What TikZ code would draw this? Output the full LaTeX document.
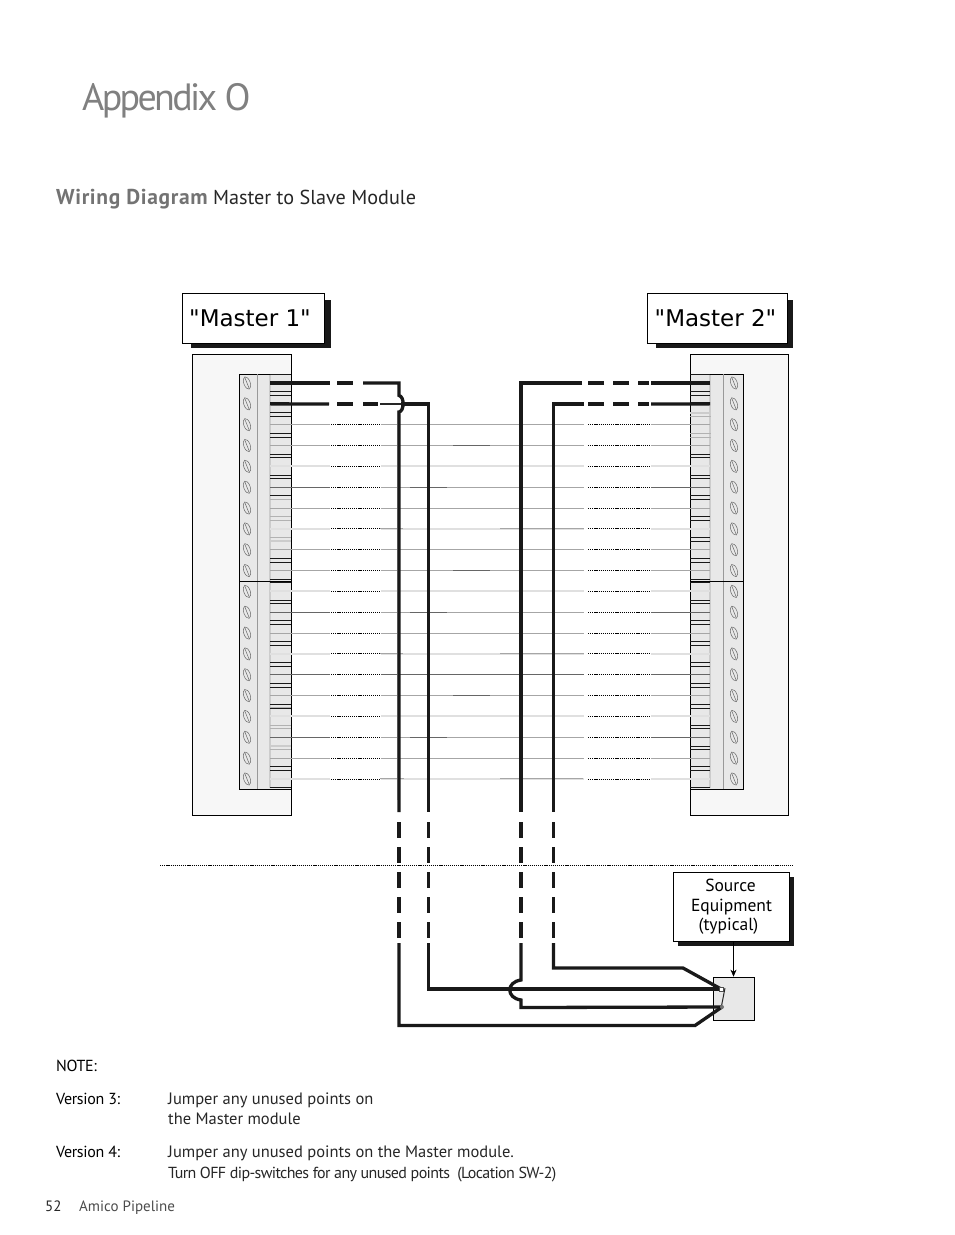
\documentclass[tikz,border=0pt]{standalone}
\usepackage{fontspec}
\usetikzlibrary{arrows.meta}
\setmainfont{PT Sans}
\newfontfamily\labelfont{DejaVu Sans}
\newfontfamily\tighttitle[LetterSpace=-7]{PT Sans}
\newfontfamily\tightnote[LetterSpace=-3.9]{PT Sans}
\newfontfamily\tightversion[LetterSpace=-2]{PT Sans}
\newfontfamily\widebold[LetterSpace=3,BoldFont={PT Sans Bold}]{PT Sans}
\definecolor{titlegray}{gray}{0.45}
\tikzset{
    panel/.style={draw=black, line width=0.9pt, fill=black!3},
    terminal/.style={draw=black, line width=0.9pt, fill=black!9},
    screw/.style={draw=black!60, line width=0.5pt},
    thickwire/.style={line width=3.3pt, draw=black!90},
    dotwire/.style={line width=0.9pt, dash pattern=on 1.2pt off 0.9pt, draw=black},
    shadowbox/.style={draw=black, line width=0.7pt, fill=white, align=center, inner sep=0pt},
    pagetext/.style={anchor=base west, inner sep=0pt, text=black!85, font=\fontsize{16.5}{16.5}\selectfont},
    versiontext/.style={anchor=base west, inner sep=0pt, text=black, font=\tightversion\fontsize{16}{16}\selectfont},
}
\begin{document}
\begin{tikzpicture}[x=1pt, y=-1pt]
    \useasboundingbox (0,0) rectangle (954,1235);

    % Titles
    \node[anchor=base west, inner sep=0pt, text=black!50, font=\tighttitle\fontsize{38}{38}\selectfont] (title) at (82,110) {Appendix O};
    \node[pagetext, font=\fontsize{20.2}{20}\selectfont] (subtitle) at (56,204) {\textcolor{titlegray}{\widebold\fontsize{21.5}{20}\selectfont\bfseries Wiring Diagram} Master to Slave Module};

    % Panels
    \filldraw[panel] (192,354) rectangle (291,815);
    \filldraw[panel] (690,354) rectangle (788,815);

    % Master labels
    \fill[black!90] (191,300) rectangle (330.5,348);
    \fill[black!90] (656,300) rectangle (792.5,348);
    \node[shadowbox, minimum width=142pt, minimum height=50.5pt, font=\labelfont\fontsize{23}{23}\selectfont] (master1) at (253.5,318.5) {\raisebox{-1pt}{"Master 1"}\hspace*{7pt}};
    \node[shadowbox, minimum width=140pt, minimum height=50.5pt, font=\labelfont\fontsize{23}{23}\selectfont] (master2) at (717.5,318.5) {\raisebox{-1pt}{"Master 2"}\hspace*{4pt}};

    % Terminal blocks
    \filldraw[terminal] (239,374) rectangle (291,789);
    \filldraw[terminal] (690,374) rectangle (743,789);
    \fill[black!20] (269,375) rectangle (271,788);
    \fill[black!20] (709,375) rectangle (711,788);
    \draw[black!40] (257,374) -- (257,789);
    \draw[black!40] (723,374) -- (723,789);
    \draw[line width=0.8pt] (239,581) -- (291,581);
    \draw[line width=0.8pt] (690,581) -- (743,581);

    % Screws and terminal marks
    \foreach \row in {1,...,20} {
        \pgfmathsetmacro{\rowy}{383+(\row-1)*20.84}
        \coordinate (L\row) at (270,\rowy);
        \coordinate (R\row) at (710,\rowy);
        \draw[screw, rotate around={20:(247,\rowy)}] (247,\rowy) ellipse (3.2pt and 6.5pt);
        \draw[screw] (245,\rowy-5) -- (249,\rowy+5);
        \draw[screw, rotate around={20:(734,\rowy)}] (734,\rowy) ellipse (3.2pt and 6.5pt);
        \draw[screw] (732,\rowy-5) -- (736,\rowy+5);
        \foreach \off in {-8.6,8.6} {
            \draw[line width=0.7pt, black!90] (270,\rowy+\off) -- (291,\rowy+\off);
            \draw[line width=0.7pt, black!90] (690,\rowy+\off) -- (710,\rowy+\off);
        }
    }

    % Greyed terminal marks
    \foreach \x/\y in {270/499.3, 270/516.3, 270/520.3, 270/537.3, 270/707, 270/725, 270/728, 270/749, 690/416, 690/433, 690/437} {
        \draw[line width=0.7pt, white!70!black] (\x,\y) -- ++(20.5,0);
    }
    \foreach \x/\y in {270/541, 270/745.7, 690/412.7} {
        \draw[line width=2pt, black!20] (\x,\y) -- ++(20.5,0);
    }

    % Thin wires
    \foreach \row/\ends/\middle/\wd in {3/35/35/1, 4/35/35/1, 5/12/12/2, 6/60/35/1, 7/35/35/1, 8/12/12/2, 9/35/35/1, 10/35/35/1, 11/12/12/2, 12/60/35/1, 13/35/35/1, 14/12/12/2, 15/60/60/1, 16/35/35/1, 17/12/12/2, 18/60/35/1, 19/35/35/1, 20/12/12/2} {
        \coordinate (la) at ([xshift=60pt]L\row);
        \coordinate (lb) at ([xshift=61pt]L\row);
        \coordinate (lc) at ([xshift=110pt]L\row);
        \coordinate (ld) at ([xshift=111pt]L\row);
        \coordinate (ra) at ([xshift=-59pt]R\row);
        \coordinate (rb) at ([xshift=-60pt]R\row);
        \coordinate (rc) at ([xshift=-122pt]R\row);
        \coordinate (rd) at ([xshift=-126pt]R\row);
        \draw[black!\ends, line width=\wd pt] (L\row) -- (la);
        \draw[black!\middle, line width=\wd pt] (ld) -- (rd);
        \draw[black!\ends, line width=\wd pt] (ra) -- (R\row);
        \draw[dotwire] (lb) -- (lc);
        \draw[dotwire] (rc) -- (rb);
    }

    % Darker pieces of the thin wires
    \foreach \row/\xa/\xb/\shade in {4/453/490/60, 6/410/447/60, 8/380/403/35, 8/500/584/35, 10/453/490/60, 12/410/447/60, 14/380/403/35, 14/500/584/35, 16/453/490/60, 18/410/447/60, 20/380/404/35, 20/500/583/35} {
        \draw[black!\shade, line width=1pt] (L\row -| \xa,0) -- (L\row -| \xb,0);
    }

    % Separation line
    \coordinate (sepL) at (160,865);
    \coordinate (sepR) at (793,865);
    \draw[dotwire] (sepL) -- (sepR);

    % Source equipment
    \node[draw=black, line width=0.7pt, fill=black!9, minimum width=41pt, minimum height=43pt, inner sep=0pt] (equip) at (733.5,998.5) {};
    \fill[black!90] (678,877) rectangle (793.5,945.5);
    \node[shadowbox, minimum width=115.5pt, minimum height=69pt, font=\fontsize{17.5}{19.5}\selectfont] (source) at (731.5,907) {Source\hspace*{2pt}\\Equipment\hspace*{2pt}\\(typical)\hspace*{6pt}};
    \draw[-{Stealth[length=7pt,width=6pt]}, line width=0.6pt] (source.south -| equip.north) -- (equip.north);

    % Shading beside the long wires
    \foreach \x in {397,427,520,552} {
        \draw[black!25, line width=1pt] (\x,410) -- (\x,800);
    }

    % Long wires, left master
    \draw[thickwire] (L1) -- (330,383);
    \draw[thickwire] (337,383) -- (353,383);
    \draw[thickwire, line join=miter] (363,383) -- (399,383) -- (399,395.5) .. controls (404.5,396.5) and (404.5,411) .. (399,412) -- (399,812);
    \draw[thickwire] (L2) -- (329,404);
    \draw[thickwire] (337,404) -- (353,404);
    \draw[thickwire] (363,404) -- (378,404);
    \draw[line width=2pt, black!85] (380,404) -- (401,404);
    \draw[thickwire, line join=miter] (401,404) -- (428.5,404) -- (428.5,812);

    % Long wires, right master
    \draw[thickwire] (R1) -- (651,383);
    \draw[thickwire] (649,383) -- (638,383);
    \draw[thickwire] (629,383) -- (613,383);
    \draw[thickwire] (604,383) -- (588,383);
    \draw[thickwire, line join=miter] (582,383) -- (521,383) -- (521,812);
    \draw[thickwire] (R2) -- (651,404);
    \draw[thickwire] (649,404) -- (638,404);
    \draw[thickwire] (629,404) -- (613,404);
    \draw[thickwire] (604,404) -- (588,404);
    \draw[thickwire, line join=miter] (584,404) -- (553.5,404) -- (553.5,812);

    % Dashed part of the long wires
    \foreach \x in {399,428.5,521,553.5} {
        \draw[thickwire, dash pattern=on 16pt off 9.1pt] (\x,822) -- (\x,939);
    }

    % Wires into the source equipment
    \coordinate (swA) at (721,989);
    \coordinate (swB) at (722,1007);
    \draw[thickwire, line join=miter] (553.5,943) -- (553.5,968) -- (683,968) -- (swA);
    \draw[thickwire, line join=miter] (428.5,943) -- (428.5,989) -- (swA);
    \draw[thickwire, line join=miter] (521,943) -- (521,980) .. controls (506,982) and (506,998) .. (521,1000) -- (521,1007.5) -- (swB);
    \draw[thickwire, line join=miter] (399,943) -- (399,1025.5) -- (695,1025.5) -- (swB);
    \draw[line width=1pt, black!85] (725,988) -- (721.5,1006);
    \filldraw[draw=black!70, fill=white, line width=0.5pt] (719.5,987.5) rectangle (723,991);
    \fill[black!55] (722,1007) circle (2pt);

    % Notes
    \node[versiontext] (note) at (56,1071) {NOTE:};
    \node[versiontext] (versionA) at (56,1104) {Version 3:};
    \node[pagetext] (jumperA) at (168,1104) {Jumper any unused points on};
    \node[pagetext] (jumperB) at (168,1124) {the Master module};
    \node[versiontext] (versionB) at (56,1157) {Version 4:};
    \node[pagetext] (jumperC) at (168,1157) {Jumper any unused points on the Master module.};
    \node[pagetext, font=\tightnote\fontsize{16}{16}\selectfont] (dipline) at (168,1178) {Turn OFF dip-switches for any unused points\ \ (Location SW-2)};

    % Footer
    \node[pagetext, font=\fontsize{15}{15}\selectfont] (pagenum) at (45,1211) {52};
    \node[pagetext, text=black!70, font=\fontsize{15}{15}\selectfont] (footer) at (79,1211) {Amico Pipeline};
\end{tikzpicture}
\end{document}
